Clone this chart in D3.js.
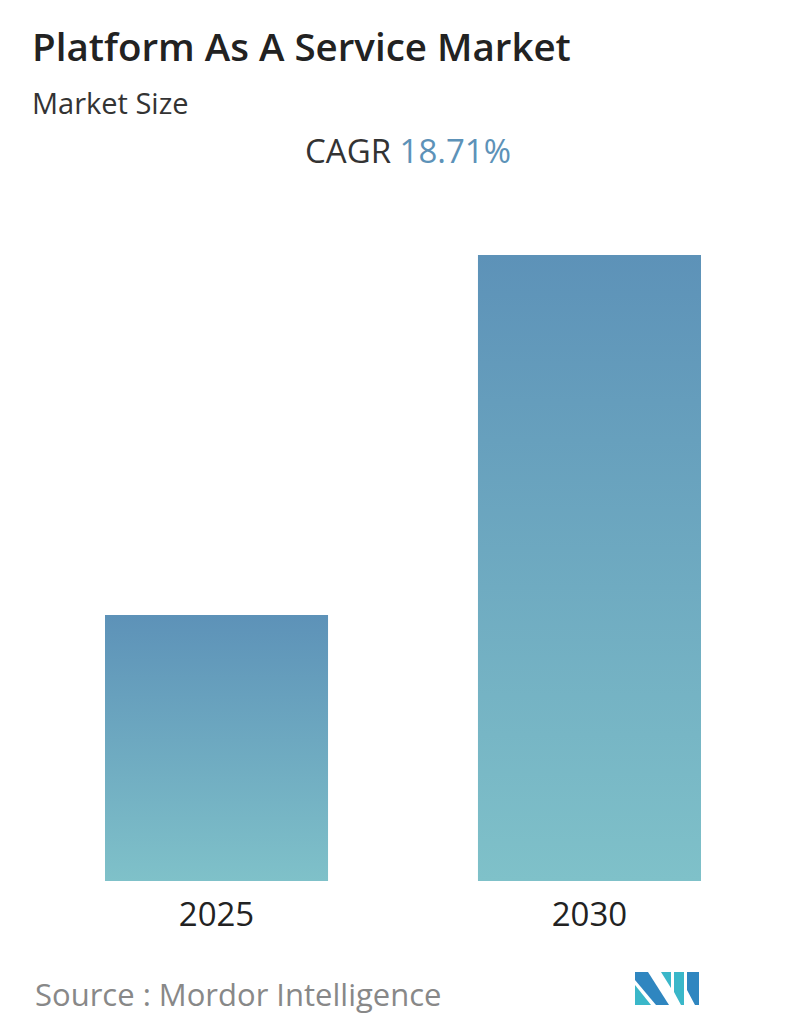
<!DOCTYPE html>
<html><head><meta charset="utf-8">
<script src="https://cdn.jsdelivr.net/npm/d3@7"></script>
<style>body{margin:0;background:#fff;font-family:"Open Sans",sans-serif}</style>
</head><body>
<script>
const categories = ["2025","2030"];
const values = [266, 626];
const cagr = "18.71%";

const W=796,H=1034;
const svg=d3.select("body").append("svg").attr("width",W).attr("height",H);
const defs=svg.append("defs");
const g=defs.append("linearGradient").attr("id","gr").attr("x1",0).attr("y1",0).attr("x2",0).attr("y2",1);
g.append("stop").attr("offset","0%").attr("stop-color","#5d92b8");
g.append("stop").attr("offset","100%").attr("stop-color","#7fc1c9");

svg.append("text").attr("x",32).attr("y",61).attr("font-size",38.5).attr("font-weight",600).attr("fill","#222").text("Platform As A Service Market");
svg.append("text").attr("x",32).attr("y",114).attr("font-size",29).attr("fill","#333").text("Market Size");
const t=svg.append("text").attr("x",408).attr("y",163).attr("font-size",33).attr("text-anchor","middle");
t.append("tspan").attr("fill","#333").text("CAGR ");
t.append("tspan").attr("fill","#5d92b8").text(cagr);

const x=d3.scaleBand().domain(categories).range([105,701]).paddingInner(0.402).paddingOuter(0);
const y=d3.scaleLinear().domain([0,626]).range([881,255]);
svg.selectAll("rect.b").data(values).join("rect").attr("class","b")
 .attr("x",(d,i)=>x(categories[i])).attr("width",x.bandwidth())
 .attr("y",d=>y(d)).attr("height",d=>881-y(d)).attr("fill","url(#gr)");
svg.selectAll("text.c").data(categories).join("text").attr("class","c")
 .attr("x",d=>x(d)+x.bandwidth()/2).attr("y",926).attr("text-anchor","middle")
 .attr("font-size",33).attr("fill","#222").text(d=>d);

svg.append("text").attr("x",35).attr("y",1006).attr("font-size",31).attr("fill","#888").text("Source :  Mordor Intelligence");
const L=svg.append("g").attr("transform","translate(635,972)");
L.append("polygon").attr("points","0,0 13,0 34,33 21,33 0,8").attr("fill","#2f86c0");
L.append("polygon").attr("points","0,13 16,33 0,33").attr("fill","#3ab7c9");
L.append("polygon").attr("points","26,0 36,0 36,16").attr("fill","#3ab7c9");
L.append("polygon").attr("points","39,0 49,0 49,33 46,33 39,20").attr("fill","#3ab7c9");
L.append("polygon").attr("points","52,0 64,0 64,33 60,33 52,18").attr("fill","#2f86c0");
</script>
</body></html>
